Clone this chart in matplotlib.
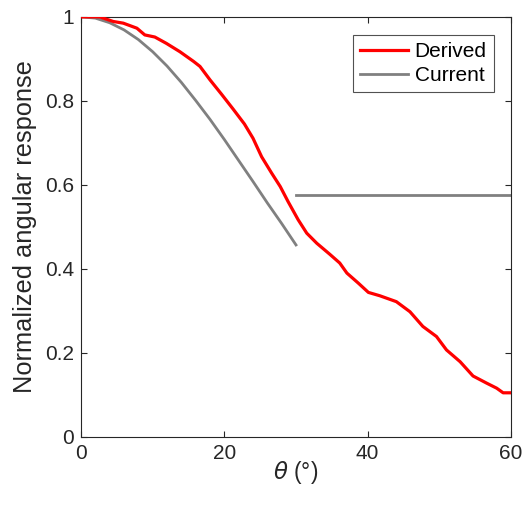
import numpy as np
import matplotlib.pyplot as plt

plt.rcParams['font.family'] = ['Liberation Sans', 'DejaVu Sans']

# derived angular response
theta_derived = [0, 2.6, 4.5, 5.9, 7.8, 8.9, 10.3, 11.9, 13.8, 15.7, 16.6, 18.0, 19.6,
                 21.2, 22.8, 24.0, 25.2, 26.6, 27.8, 28.9, 30.3, 31.5, 32.9, 34.7,
                 36.1, 37.1, 38.7, 40.1, 41.7, 44.0, 45.9, 47.7, 49.6, 51.0, 52.9,
                 54.7, 56.6, 58.0, 58.9, 60]
resp_derived = [1.0, 1.0, 0.989, 0.985, 0.973, 0.957, 0.952, 0.937, 0.917, 0.894,
                0.882, 0.85, 0.816, 0.781, 0.745, 0.711, 0.667, 0.628, 0.596, 0.56,
                0.517, 0.485, 0.461, 0.435, 0.414, 0.39, 0.366, 0.344, 0.336, 0.322,
                0.298, 0.263, 0.239, 0.207, 0.179, 0.145, 0.128, 0.116, 0.105, 0.105]

# current response, curved part up to 30 deg then flat level
theta_current = [0, 2, 4, 6, 8, 10, 12, 14, 16, 18, 20, 22, 24, 26, 28, 30]
resp_current = [1.0, 0.997, 0.986, 0.969, 0.946, 0.917, 0.883, 0.844, 0.801, 0.756,
                0.708, 0.658, 0.608, 0.557, 0.508, 0.457]
theta_flat = [30, 60]
resp_flat = [0.577, 0.577]

axc = (0.15, 0.15, 0.15)
grey = (0.5, 0.5, 0.5)

fig = plt.figure(figsize=(5.26, 5.11), dpi=100)
ax = fig.add_axes([0.154, 0.145, 0.8175, 0.822])

ax.plot(theta_derived, resp_derived, color='red', lw=2.3, label='Derived', zorder=3)
ax.plot(theta_current, resp_current, color=grey, lw=2.0, label='Current')
ax.plot(theta_flat, resp_flat, color=grey, lw=2.0)

ax.set_xlim(0, 60)
ax.set_ylim(0, 1)
ax.set_xticks([0, 20, 40, 60])
ax.set_yticks([0, 0.2, 0.4, 0.6, 0.8, 1])
ax.set_yticklabels(['0', '0.2', '0.4', '0.6', '0.8', '1'])
ax.tick_params(direction='in', top=True, right=True, length=4, width=0.8,
               colors=axc, labelsize=15, pad=5)
for s in ax.spines.values():
    s.set_color(axc)
    s.set_linewidth(0.8)

ax.set_xlabel(r'$\theta$ (°)', fontsize=16.5, color=axc, labelpad=-3)
ax.set_ylabel('Normalized angular response', fontsize=18.3, color=axc, labelpad=6)

leg = ax.legend(loc='upper right', fontsize=15, frameon=True, fancybox=False,
                edgecolor=axc, handlelength=2.3, handletextpad=0.3,
                borderpad=0.35, labelspacing=0.25, borderaxespad=0,
                bbox_to_anchor=(0.96, 0.958))
leg.get_frame().set_linewidth(0.8)

plt.savefig('out.png', dpi=100)
plt.close()
